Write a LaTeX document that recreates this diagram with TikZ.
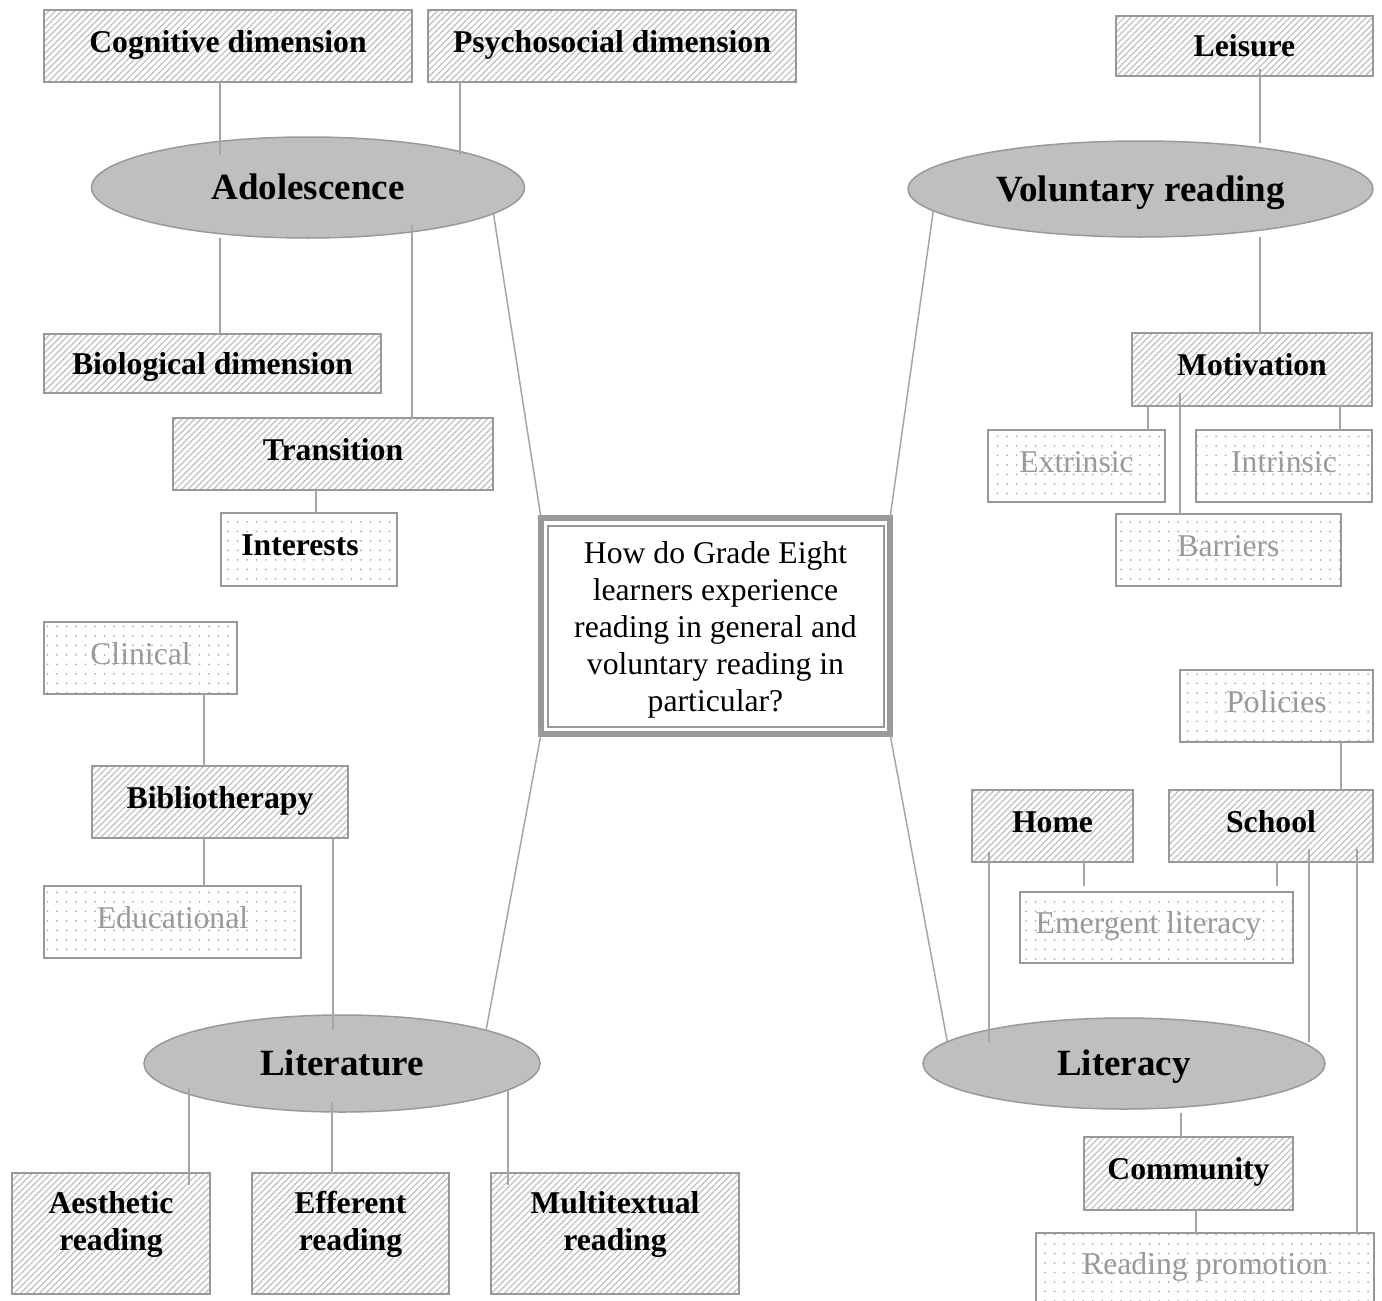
\documentclass[tikz,border=0pt]{standalone}
\usepackage{fontspec}
\setmainfont{Liberation Serif}
\usetikzlibrary{shapes.geometric,patterns.meta,calc}
\newcommand\mlines[1]{\begin{tabular}[t]{@{}c@{}}#1\end{tabular}}
\begin{document}
\begin{tikzpicture}[x=1pt,y=-1pt,
  conn/.style={draw=black!35, line width=1.5pt},
  base/.style={rectangle, draw=black!40, line width=2pt, inner sep=0pt, outer sep=0pt,
    text height=21pt, text depth=9pt, font=\fontsize{31.7}{37}\selectfont},
  hbox/.style={base, pattern={Lines[angle=45,distance=4.5pt,line width=1.2pt]},
    pattern color=black!25, font=\bfseries\fontsize{31.7}{37}\selectfont},
  dbox/.style={base, pattern={Dots[distance=9.5pt,radius=1pt]}, pattern color=black!32, text=black!40},
  dboxb/.style={dbox, text=black, font=\bfseries\fontsize{31.7}{37}\selectfont},
  two/.style={text height=21pt, text depth=62pt},
  low/.style={text depth=0pt},
  sz/.style 2 args={minimum width=#1pt, minimum height=#2pt},
  ell/.style={ellipse, draw=black!40, line width=1.5pt, fill=black!25, inner sep=0pt, outer sep=0pt,
    font=\bfseries\fontsize{37}{44}\selectfont, text height=24.4pt, text depth=0pt},
  qbox/.style={rectangle, draw=black!40, line width=6pt, inner sep=0pt, outer sep=0pt,
    font=\fontsize{31.7}{37}\selectfont, text height=21pt, text depth=147pt}
]
\clip (0,0) rectangle (1382,1301);
\fill[white] (0,0) rectangle (1382,1301);

% nodes
\node[hbox, sz={368}{72}] (cog) at (228,46) {Cognitive dimension};
\node[hbox, sz={368}{72}] (psy) at (612,46) {Psychosocial dimension};
\node[hbox, low, sz={257}{60}] (lei) at (1244.5,46) {Leisure};
\node[ell, sz={433}{101}] (adol) at (308,187.5) {Adolescence};
\node[ell, sz={465}{96}] (vol) at (1140.5,189) {Voluntary reading};
\node[hbox, low, sz={337}{59}] (bio) at (212.5,363.5) {Biological dimension};
\node[hbox, sz={320}{72}] (tra) at (333,454) {Transition};
\node[dboxb, sz={176}{73}] (int) at (309,549.5) {Interests\kern18pt};
\node[hbox, sz={240}{73}] (mot) at (1252,369.5) {Motivation};
\node[dbox, sz={177}{72}] (ext) at (1076.5,466) {Extrinsic};
\node[dbox, sz={176}{72}] (intr) at (1284,466) {Intrinsic};
\node[dbox, sz={225}{72}] (bar) at (1228.5,550) {Barriers};
\node[qbox, sz={349}{216}] (q) at (715.5,626) {\mlines{How do Grade Eight\\learners experience\\reading in general and\\voluntary reading in\\particular?}};
\draw[black!40, line width=1.5pt] ($(q.north west)+(7,8)$) rectangle ($(q.south east)+(-6,-7)$);
\node[dbox, sz={193}{72}] (cli) at (140.5,658) {Clinical};
\node[hbox, sz={256}{72}] (bib) at (220,802) {Bibliotherapy};
\node[dbox, sz={257}{72}] (edu) at (172.5,922) {Educational};
\node[dbox, sz={193}{72}] (pol) at (1276.5,706) {Policies};
\node[hbox, sz={161}{72}] (home) at (1052.5,826) {Home};
\node[hbox, sz={204}{72}] (sch) at (1271,826) {School};
\node[dbox, sz={273}{71}] (emg) at (1156.5,927.5) {Emergent literacy\kern16pt};
\node[ell, sz={396}{97}] (lit) at (342,1063.5) {Literature};
\node[ell, sz={402}{91}] (lcy) at (1124,1063.5) {Literacy};
\node[hbox, two, sz={198}{121}] (aes) at (111,1233.5) {\mlines{Aesthetic\\reading}};
\node[hbox, two, sz={197}{121}] (eff) at (350.5,1233.5) {\mlines{Efferent\\reading}};
\node[hbox, two, sz={248}{121}] (mul) at (615,1233.5) {\mlines{Multitextual\\reading}};
\node[hbox, sz={209}{73}] (com) at (1188.5,1173.5) {Community};
\node[dbox, sz={338}{70}] (rp) at (1205,1268) {Reading promotion};

% connectors
\draw[conn] ($(cog.south)+(-8,0)$) -- ($(adol.north)+(-88,18)$);
\draw[conn] ($(psy.south)+(-152,0)$) -- ($(adol.north)+(152,18)$);
\draw[conn] ($(adol.south)+(-88,0)$) -- ($(bio.north)+(7.5,0)$);
\draw[conn] ($(adol.south)+(104,-13)$) -- ($(tra.north)+(79,0)$);
\draw[conn] ($(tra.south)+(-17,0)$) -- ($(int.north)+(7,0)$);
\draw[conn] (adol.-8) -- (q.north west);
\draw[conn] (vol.186) -- (q.north east);
\draw[conn] (q.south west) -- (lit.13);
\draw[conn] (q.south east) -- (lcy.173);
\draw[conn] ($(lei.south)+(15.5,-7)$) -- ($(vol.north)+(119.5,2)$);
\draw[conn] ($(vol.south)+(119.5,0)$) -- ($(mot.north)+(8,0)$);
\draw[conn] ($(mot.south)+(-104,0)$) -- ($(ext.north)+(71.5,0)$);
\draw[conn] ($(mot.south)+(88,0)$) -- ($(intr.north)+(56,0)$);
\draw[conn] ($(mot.south)+(-72,-13)$) -- ($(bar.north)+(-48.5,0)$);
\draw[conn] ($(cli.south)+(63.5,0)$) -- ($(bib.north)+(-16,0)$);
\draw[conn] ($(bib.south)+(-16,0)$) -- ($(edu.north)+(31.5,0)$);
\draw[conn] ($(bib.south)+(113,0)$) -- ($(lit.north)+(-9,15)$);
\draw[conn] ($(lit.south)+(-153,-24)$) -- ($(aes.north)+(78,12)$);
\draw[conn] ($(lit.south)+(-10,-10)$) -- ($(eff.north)+(-18.5,0)$);
\draw[conn] ($(lit.south)+(166,-22)$) -- ($(mul.north)+(-107,12)$);
\draw[conn] ($(pol.south)+(64.5,0)$) -- ($(sch.north)+(70,0)$);
\draw[conn] ($(home.south)+(31.5,0)$) -- ($(emg.north)+(-72.5,-6)$);
\draw[conn] ($(sch.south)+(6,0)$) -- ($(emg.north)+(120.5,-6)$);
\draw[conn] ($(home.south)+(-63.5,-10)$) -- ($(lcy.north)+(-135,24)$);
\draw[conn] ($(sch.south)+(38,-13)$) -- ($(lcy.north)+(185,24)$);
\draw[conn] ($(sch.south)+(86,-13)$) -- ($(rp.north)+(152,0)$);
\draw[conn] ($(lcy.south)+(57,4)$) -- ($(com.north)+(-7.5,0)$);
\draw[conn] ($(com.south)+(7.5,0)$) -- ($(rp.north)+(-9,0)$);
\end{tikzpicture}
\end{document}
